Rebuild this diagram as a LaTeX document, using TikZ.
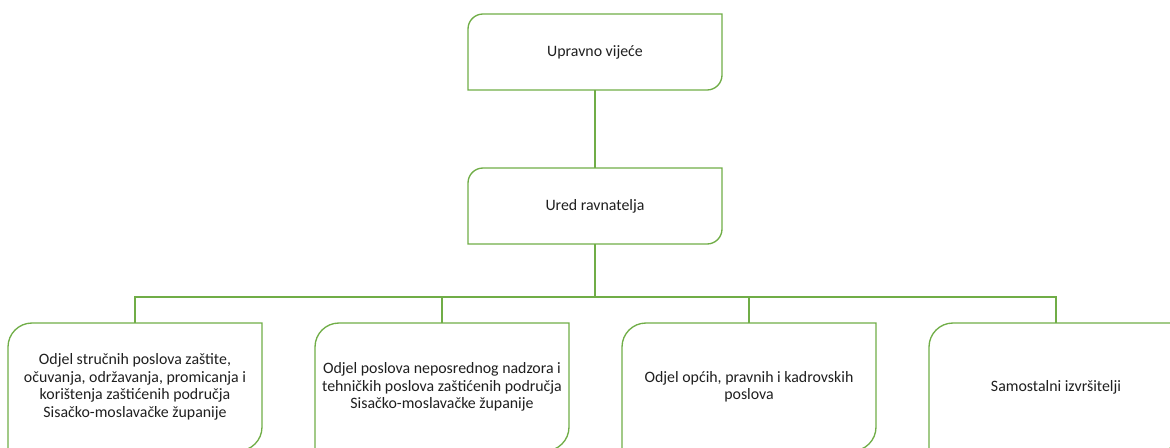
\documentclass[tikz,border=0pt]{standalone}
\usepackage{fontspec}
\setmainfont{Carlito}
\usetikzlibrary{calc}
\definecolor{boxgreen}{HTML}{70AD47}
\definecolor{txt}{HTML}{1F1F1F}
\tikzset{
  orgbox/.style={draw=none, inner sep=0pt, outer sep=0pt, align=center,
    minimum width=190.5pt, text=txt, font=\fontsize{11.9}{13.1}\selectfont},
  topbox/.style={orgbox, minimum height=57pt},
  lowbox/.style={orgbox, minimum height=96pt},
  boxline/.style={draw=boxgreen, line width=1pt},
  link/.style={draw=boxgreen, line width=1pt}
}
\newcommand{\leafshape}[2]{%
  \draw[boxline] ($(#1.north west)+(0,#2)$)
    .. controls ($(#1.north west)+(0,0.4477*#2)$) and ($(#1.north west)+(0.4477*#2,0)$) ..
    ($(#1.north west)+(#2,0)$) -- (#1.north east)
    -- ($(#1.south east)+(0,-#2)$)
    .. controls ($(#1.south east)+(0,-0.4477*#2)$) and ($(#1.south east)+(-0.4477*#2,0)$) ..
    ($(#1.south east)+(-#2,0)$) -- (#1.south west) -- cycle;}
\begin{document}
\begin{tikzpicture}[x=0.75pt, y=-0.75pt]
  \useasboundingbox (0,0) rectangle (1170,447);
  \clip (0,0) rectangle (1170,447);
  \node[topbox] (uv) at (595,52) {Upravno vijeće};
  \node[topbox] (ur) at (595,206) {Ured ravnatelja};
  \node[lowbox] (o1) at (135,387) {Odjel stručnih poslova zaštite,\\očuvanja, održavanja, promicanja i\\korištenja zaštićenih područja\\Sisačko-moslavačke županije};
  \node[lowbox] (o2) at (442,387) {Odjel poslova neposrednog nadzora i\\tehničkih poslova zaštićenih područja\\Sisačko-moslavačke županije};
  \node[lowbox] (o3) at (749,387) {Odjel općih, pravnih i kadrovskih\\poslova};
  \node[lowbox] (o4) at (1056,387) {Samostalni izvršitelji};
  \leafshape{uv}{15}
  \leafshape{ur}{15}
  \leafshape{o1}{24}
  \leafshape{o2}{24}
  \leafshape{o3}{24}
  \leafshape{o4}{24}
  \coordinate (bus) at (595,297);
  \draw[link] (uv.south) -- (ur.north);
  \draw[link] (ur.south) -- (bus);
  \draw[link] (bus) -| (o1.north);
  \draw[link] (bus) -| (o2.north);
  \draw[link] (bus) -| (o3.north);
  \draw[link] (bus) -| (o4.north);
\end{tikzpicture}
\end{document}
